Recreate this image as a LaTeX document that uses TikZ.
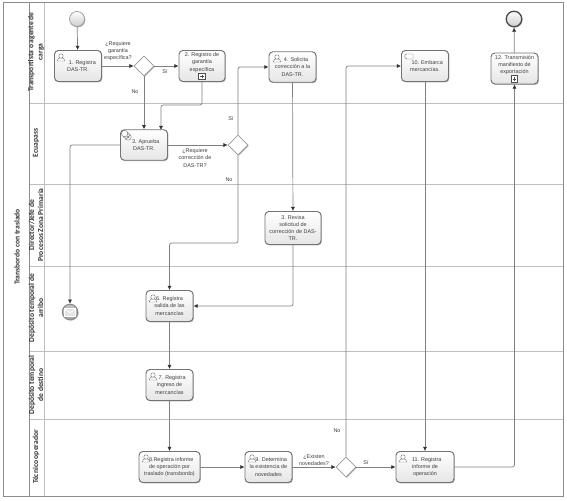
\documentclass[tikz,border=0pt]{standalone}
\usepackage{fontspec}
\setmainfont{Liberation Sans}
\newfontfamily\lanefont{Carlito}
\usepackage{tikz}
\usetikzlibrary{arrows.meta,shadows,shapes.geometric}

\tikzset{
  tsk/.style   = {rounded corners=2.2pt, draw=black!55, line width=0.55pt,
                  top color=white, bottom color=black!10,
                  drop shadow={shadow xshift=0.5pt, shadow yshift=-0.5pt, opacity=0.3, fill=black},
                  align=center, inner sep=0pt,
                  font=\fontsize{3.1}{4.15}\selectfont, text=black!75},
  gate/.style  = {diamond, aspect=1, draw=black!40, line width=0.4pt, fill=white, inner sep=0pt,
                  drop shadow={shadow xshift=0.5pt, shadow yshift=-0.5pt, opacity=0.3, fill=black}},
  evt/.style   = {circle, inner sep=0pt, top color=white, bottom color=black!20,
                  drop shadow={shadow xshift=0.5pt, shadow yshift=-0.5pt, opacity=0.3, fill=black}},
  lbl/.style   = {inner sep=0pt, align=center, font=\fontsize{3.1}{4.15}\selectfont, text=black!75},
  lane/.style  = {rotate=90, inner sep=0pt, align=center,
                  font=\lanefont\bfseries\fontsize{4.3}{5.2}\selectfont, text=black!80},
  e/.style     = {draw=black!50, line width=0.4pt, rounded corners=1.2pt,
                  -{Latex[length=2.4pt,width=2.4pt,black!80]}},
  rule/.style  = {draw=black!25, line width=0.35pt},
  usr/.pic     = {\draw[black!55, line width=0.2pt, fill=white]
                    (-3.8,3) .. controls (-3.6,0) and (-2,0) .. (0,0)
                    .. controls (2,0) and (3.6,0) .. (3.8,3) -- cycle
                    (0,-2) circle (2.2);},
  gears/.pic   = {\foreach \p in {(1,1),(-0.8,-0.8),(-2.4,-2.4)}
                    \draw[black!55, line width=0.25pt, fill=white] \p circle (3.2);
                  \draw[black!55, line width=0.2pt] (1,1) circle (1.2);},
  plusbox/.pic = {\draw[black!70, line width=0.35pt, fill=white] (-3.2,-3.2) rectangle (3.2,3.2);
                  \draw[black!70, line width=0.55pt] (-1.8,0) -- (1.8,0) (0,-1.8) -- (0,1.8);}
}

\begin{document}
\begin{tikzpicture}[x=0.2mm,y=-0.2mm]
\useasboundingbox (0,0) rectangle (567,500);
\fill[white] (0,0) rectangle (567,500);

% --- pool and lanes ---------------------------------------------------
\foreach \yy in {103,184,266,351,419}
  \draw[rule] (29,\yy) -- (563,\yy);
\draw[rule] (44,2) -- (44,496);
\draw[black!45, line width=0.4pt] (29,2) -- (29,496);
\draw[black!45, line width=0.5pt] (3,2) rectangle (563,496);

\node[lane] (pool) at (17,247) {Transbordo con traslado};
\node[lane] (l1) at (36,52)  {Transportista o agente de\\carga};
\node[lane] (l2) at (36,143) {Ecuapass};
\node[lane] (l3) at (36,225) {Director/Jefe de\\Procesos Zona Primaria};
\node[lane] (l4) at (36,308) {Depósito temporal de\\arribo};
\node[lane] (l5) at (36,385) {Depósito temporal\\de destino};
\node[lane] (l6) at (36,457) {Técnico operador};

% --- events -----------------------------------------------------------
\node[evt, draw=black!40, line width=0.4pt, minimum size=3mm] (start) at (77,19) {};
\node[evt, draw=black!70, line width=0.75pt, minimum size=3.1mm] (end) at (514,19) {};
\node[evt, draw=black!45, line width=0.6pt, bottom color=black!35, top color=black!25, minimum size=3.1mm] (msg) at (70,312) {};
\draw[white, line width=0.35pt, fill=black!10] (64.5,308.5) rectangle (75.5,316.5);
\draw[white, line width=0.35pt] (64.5,308.5) -- (70,313) -- (75.5,308.5);

% --- tasks ------------------------------------------------------------
\node[tsk, minimum width=9.4mm, minimum height=6.2mm] (t1) at (78,66) {\hspace*{5pt}1. Registra\\DAS-TR.};
\node[tsk, minimum width=9.2mm, minimum height=6.2mm] (t2) at (202,66) {2. Registro de\\garantía\\específica\\[0.4pt]};
\node[tsk, minimum width=9.4mm, minimum height=6.1mm] (t3) at (144,145) {\hspace*{2pt}3. Aprueba\\DAS-TR.};
\node[tsk, minimum width=9.4mm, minimum height=6.1mm] (t4) at (292.5,67) {\hspace*{4pt}4. Solicita\\corrección a la\\DAS-TR.};
\node[tsk, minimum width=11.2mm, minimum height=6.6mm] (t5) at (293,228) {3. Revisa\\solicitud de\\corrección de DAS-\\TR.};
\node[tsk, minimum width=9.4mm, minimum height=6.2mm] (t6) at (169.5,306) {6. Registra\\salida de las\\mercancías};
\node[tsk, minimum width=9.4mm, minimum height=6.2mm] (t7) at (169.5,385) {\hspace*{3pt}7. Registra\\ingreso de\\mercancías};
\node[tsk, minimum width=12.2mm, minimum height=6.2mm] (t8) at (169.5,467) {\hspace*{2pt}8.Registra informe\\de operación por\\traslado (transbordo)};
\node[tsk, minimum width=9.4mm, minimum height=6.2mm] (t9) at (268.5,467) {\hspace*{3pt}9. Determina\\la existencia de\\novedades};
\node[tsk, minimum width=9.4mm, minimum height=6.2mm] (t10) at (425,66) {\hspace*{2.5pt}10. Embarca\\mercancías.};
\node[tsk, minimum width=11.6mm, minimum height=6.2mm] (t11) at (425,467) {\hspace*{2pt}11. Registra\\informe de\\operación};
\node[tsk, minimum width=9.4mm, minimum height=6.2mm] (t12) at (514.5,68.5) {12. Transmisión\\manifiesto de\\exportación\\[0.4pt]};

\pic at (61,58) {usr};
\pic at (277,59) {usr};
\pic at (153,299) {usr};
\pic at (153,377) {usr};
\pic at (146,459) {usr};
\pic at (252,459) {usr};
\pic at (403,459) {usr};
\pic at (127,136) {gears};
\draw[black!55, line width=0.25pt, fill=white] (407,54) .. controls (404,53) and (404,59) .. (407,59) -- (413,59) -- (413,54) -- cycle;

% --- gateways ---------------------------------------------------------
\node[gate, minimum size=4mm] (g1) at (144,66) {};
\node[gate, minimum size=4mm] (g2) at (238,145) {};
\node[gate, minimum size=4mm] (g3) at (346,467) {};

% --- edges ------------------------------------------------------------
\draw[e] (start) -- (t1);
\draw[e] (t1) -- (g1);
\draw[e] (g1) -- (t2);
\draw[e] (g1) -- (t3);
\draw[e] (t2.south) |- (161,105) -- (161,130);
\draw[e] (t3) -- (g2);
\draw[e] (t3.west) -| (msg);
\draw[e] (g2.north) |- (t4);
\draw[e] (g2.south) |- (169.5,243) -- (t6);
\draw[e] (t4) -- (t5);
\draw[e] (t5.south) |- (t6);
\draw[e] (t6) -- (t7);
\draw[e] (t7) -- (t8);
\draw[e] (t8) -- (t9);
\draw[e] (t9) -- (g3);
\draw[e] (g3) -- (t11);
\draw[e] (g3.north) |- (t10);
\draw[e] (t10) -- (t11);
\draw[e] (t11.east) -| (t12);
\draw[e] (t12) -- (end);

\pic at (202,76.5) {plusbox};
\pic at (514.5,79) {plusbox};

% --- annotations ------------------------------------------------------
\node[lbl] (q1) at (118,51)  {¿Requiere\\garantía\\específica?};
\node[lbl] (si1) at (165,72) {Sí};
\node[lbl] (no1) at (135,92) {No};
\node[lbl] (si2) at (231,119) {Sí};
\node[lbl] (q2) at (195,158) {¿Requiere\\corrección de\\DAS-TR?};
\node[lbl] (no2) at (229,180) {No};
\node[lbl] (q3) at (314,460) {¿Existen\\novedades?};
\node[lbl] (si3) at (366,463) {Sí};
\node[lbl] (no3) at (337,431) {No};
\end{tikzpicture}
\end{document}
